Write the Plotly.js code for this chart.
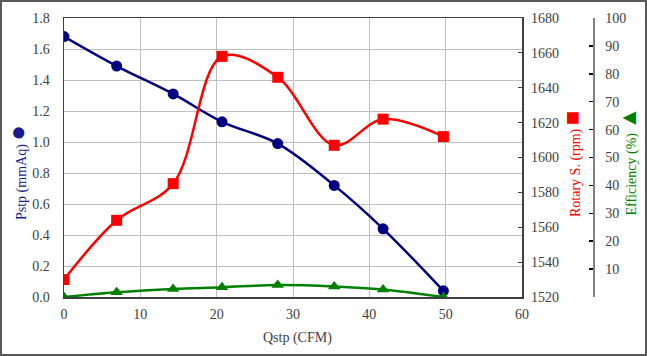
<!DOCTYPE html>
<html>
<head>
<meta charset="utf-8">
<script src="https://cdn.plot.ly/plotly-3.0.1.min.js"></script>
<style>
html,body{margin:0;padding:0;background:#fff;}
#wrap{position:relative;width:647px;height:356px;}
#chart{width:647px;height:356px;}
#frame{position:absolute;left:0;top:0;width:647px;height:356px;box-sizing:border-box;border:2px solid #595959;pointer-events:none;}
</style>
</head>
<body>
<div id="wrap"><div id="chart"></div><div id="frame"></div></div>
<script>
// Data
const qstp = [0, 6.9, 14.3, 20.7, 28.0, 35.4, 41.8, 49.7];          // CFM
const pstp = [1.68, 1.49, 1.31, 1.13, 0.99, 0.72, 0.44, 0.04];       // mmAq
const rotary = [1530, 1564, 1585, 1658, 1646, 1607, 1622, 1612];     // rpm
const efficiency = [0, 1.7, 2.9, 3.5, 4.3, 3.8, 2.7, 0];             // %

const xTicks = [0, 10, 20, 30, 40, 50, 60];
const effTicks = [0, 10, 20, 30, 40, 50, 60, 70, 80, 90, 100];
const effTickText = ['', '10', '20', '30', '40', '50', '60', '70', '80', '90', '100'];

const serif = 'Liberation Serif, serif';
function tf() { return {family: serif, size: 14, color: '#404040'}; }

const traces = [
  {x: qstp, y: pstp, type: 'scatter', mode: 'lines+markers', name: 'Pstp',
   line: {color: '#000080', width: 2.5, shape: 'spline', smoothing: 1},
   marker: {symbol: 'circle', size: 11, color: '#000080'}, yaxis: 'y'},
  {x: qstp, y: rotary, type: 'scatter', mode: 'lines+markers', name: 'Rotary S.',
   line: {color: '#ff0000', width: 2.5, shape: 'spline', smoothing: 1},
   marker: {symbol: 'square', size: 11, color: '#ff0000'}, yaxis: 'y2'},
  {x: qstp, y: efficiency, type: 'scatter', mode: 'lines+markers', name: 'Efficiency',
   line: {color: '#008000', width: 2.5, shape: 'spline', smoothing: 1},
   marker: {symbol: 'triangle-up', size: 11, color: '#008000'}, yaxis: 'y3'}
];

const layout = {
  width: 647, height: 356,
  margin: {l: 64, r: 54, t: 18, b: 59},
  paper_bgcolor: '#ffffff', plot_bgcolor: '#ffffff',
  showlegend: false,
  font: {family: serif, size: 14, color: '#404040'},
  xaxis: {
    domain: [0, 0.8658],
    range: [0, 60], tickvals: xTicks, ticks: '', showgrid: true,
    gridcolor: '#bfbfbf', gridwidth: 1, zeroline: false,
    showline: true, linecolor: '#404040', linewidth: 1.5, mirror: true,
    tickfont: tf(), ticklabelstandoff: 4
  },
  yaxis: {
    range: [0, 1.8], dtick: 0.2, tick0: 0, tickformat: '.1f', ticks: '',
    showgrid: true, gridcolor: '#bfbfbf', gridwidth: 1, zeroline: false,
    showline: true, linecolor: '#404040', linewidth: 1.5, mirror: true,
    tickfont: tf(), ticklabelstandoff: 10
  },
  yaxis2: {
    range: [1520, 1680], dtick: 20, tick0: 1520, overlaying: 'y', side: 'right',
    anchor: 'x', showgrid: false, zeroline: false, showline: false,
    ticks: 'inside', ticklen: 4, tickcolor: '#404040', tickwidth: 1,
    tickfont: tf(), ticklabelstandoff: 8
  },
  yaxis3: {
    range: [0, 100], tickvals: effTicks, ticktext: effTickText,
    overlaying: 'y', side: 'right', anchor: 'free', position: 1,
    showgrid: false, zeroline: false, showline: true, linecolor: '#808080', linewidth: 1.5,
    ticks: 'inside', ticklen: 4, tickcolor: '#000000', tickwidth: 1.5,
    tickfont: tf(), ticklabelstandoff: 8
  },
  annotations: [
    {xref: 'paper', yref: 'paper', x: -0.0888, y: 0.4444, xanchor: 'center', yanchor: 'middle',
     textangle: -90, showarrow: false,
     text: 'Pstp (mmAq) <span style="font-size:26px">●</span>',
     font: {family: serif, size: 14, color: '#1a1a8c'}},
    {xref: 'paper', yref: 'paper', x: 0.9603, y: 0.4767, xanchor: 'center', yanchor: 'middle',
     textangle: -90, showarrow: false,
     text: 'Rotary S. (rpm) <span style="font-size:24px">■</span>',
     font: {family: serif, size: 14, color: '#ff0000'}},
    {xref: 'paper', yref: 'paper', x: 1.068, y: 0.489, xanchor: 'center', yanchor: 'middle',
     textangle: -90, showarrow: false,
     text: 'Efficiency (%) <span style="font-size:23px">▲</span>',
     font: {family: serif, size: 14, color: '#008000'}},
    {xref: 'paper', yref: 'paper', x: 0.4405, y: -0.147, xanchor: 'center', yanchor: 'middle',
     showarrow: false, text: 'Qstp (CFM)',
     font: {family: serif, size: 14, color: '#404040'}}
  ]
};

Plotly.newPlot('chart', traces, layout, {displayModeBar: false, staticPlot: true});
</script>
</body>
</html>
